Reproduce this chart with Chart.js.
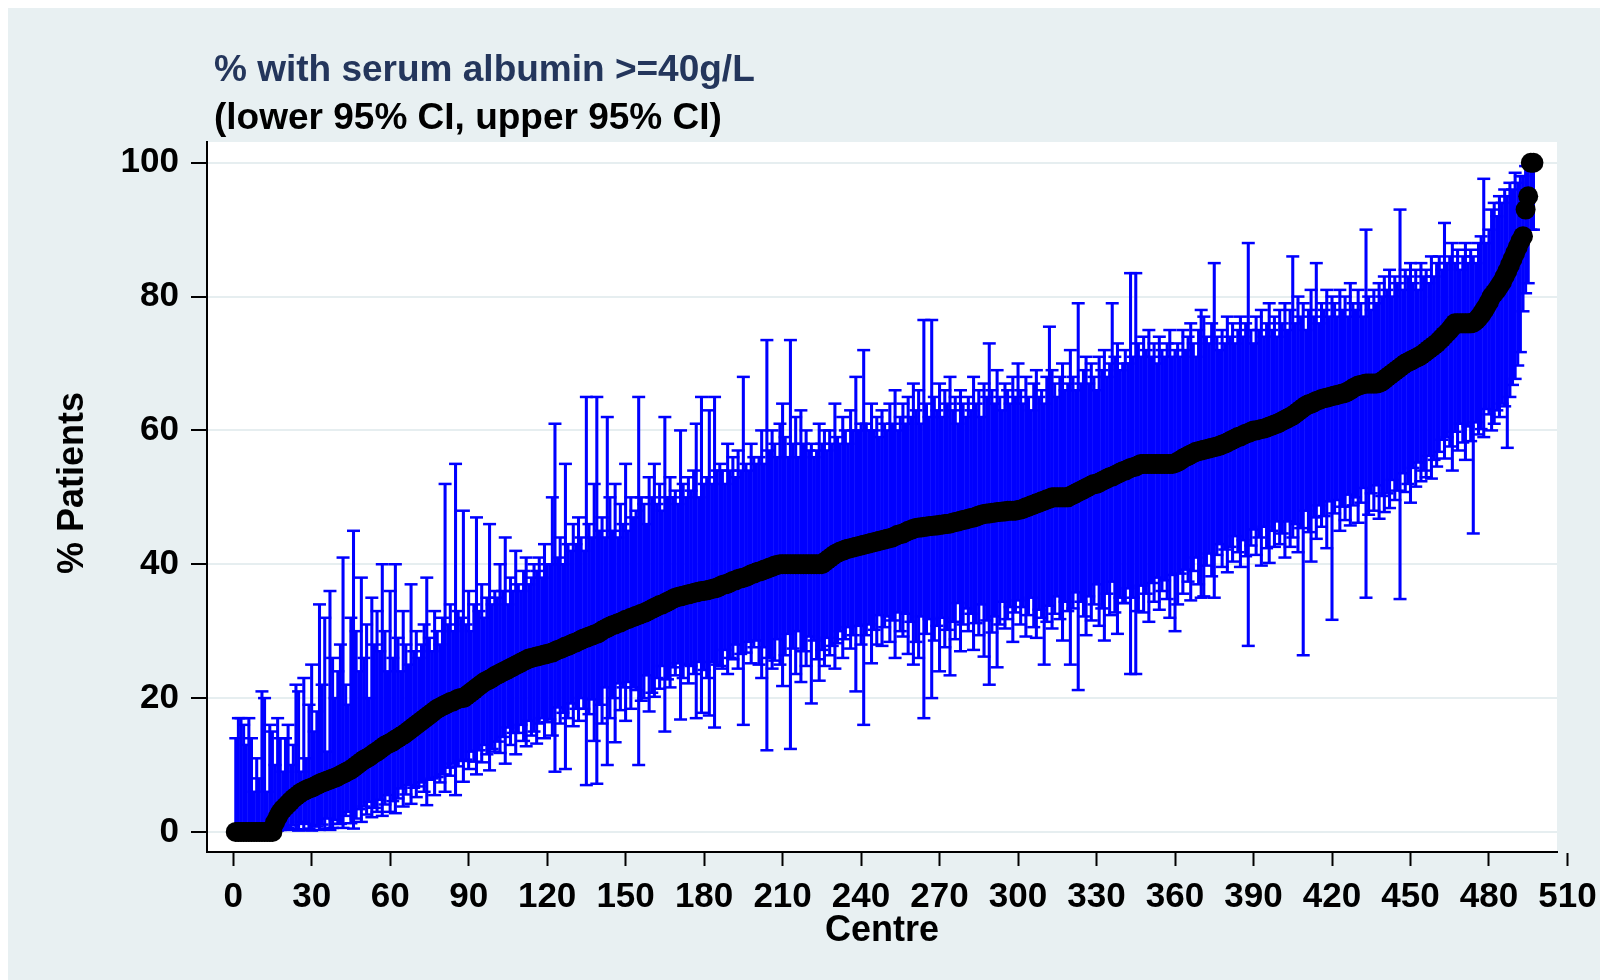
<!DOCTYPE html>
<html>
<head>
<meta charset="utf-8">
<script src="https://cdn.jsdelivr.net/npm/chart.js@4.4.1/dist/chart.umd.min.js"></script>
<style>
  html, body { margin: 0; padding: 0; background: #fff; }
  canvas { display: block; }
</style>
</head>
<body>
<canvas id="albuminChart" width="1600" height="980"></canvas>
<script>
// % of patients per centre, sorted
const centrePct = [
  0,0,0,0,0,0,0,0,0,0,0,0,0,0,0,1.4,2.2,2.9,3.4,3.8,
  4.2,4.6,5.0,5.3,5.6,5.9,6.1,6.3,6.5,6.6,6.8,7.0,7.2,7.4,7.5,7.7,7.8,8.0,8.1,8.3,
  8.5,8.7,8.9,9.1,9.3,9.6,9.9,10.2,10.5,10.8,11.0,11.2,11.5,11.8,12.0,12.3,12.6,12.9,13.1,13.3,
  13.5,13.8,14.0,14.3,14.5,14.8,15.1,15.4,15.7,16.0,16.3,16.6,16.9,17.2,17.5,17.8,18.1,18.4,18.6,18.8,
  19.0,19.2,19.4,19.5,19.7,19.9,20.0,20.0,20.3,20.6,20.9,21.2,21.5,21.8,22.1,22.4,22.6,22.8,23.0,23.3,
  23.5,23.7,23.9,24.1,24.3,24.5,24.7,24.9,25.1,25.3,25.5,25.7,25.9,26.0,26.1,26.2,26.3,26.4,26.5,26.6,
  26.7,26.8,27.0,27.2,27.3,27.5,27.7,27.8,28.0,28.2,28.3,28.5,28.7,28.9,29.0,29.2,29.3,29.5,29.6,29.8,
  30.1,30.3,30.5,30.7,30.9,31.0,31.2,31.3,31.5,31.7,31.8,32.0,32.1,32.3,32.4,32.6,32.7,32.9,33.1,33.3,
  33.5,33.7,33.9,34.0,34.2,34.4,34.6,34.8,35.0,35.1,35.2,35.3,35.4,35.5,35.6,35.7,35.8,35.9,36.0,36.0,
  36.1,36.2,36.3,36.4,36.5,36.7,36.9,37.0,37.1,37.3,37.5,37.6,37.8,37.9,38.0,38.1,38.3,38.5,38.6,38.8,
  38.9,39.0,39.2,39.3,39.5,39.6,39.8,39.9,40,40,40,40,40,40,40,40,40,40,40,40,
  40,40,40,40,40,40.3,40.6,40.9,41.2,41.5,41.7,41.9,42.0,42.2,42.3,42.4,42.5,42.6,42.7,42.8,
  42.9,43.0,43.1,43.2,43.3,43.4,43.5,43.6,43.7,43.8,43.9,44.0,44.2,44.4,44.5,44.6,44.8,45.0,45.1,45.3,
  45.4,45.5,45.5,45.6,45.6,45.7,45.7,45.8,45.8,45.9,45.9,46.0,46.0,46.1,46.2,46.3,46.4,46.5,46.6,46.7,
  46.8,46.9,47.0,47.1,47.3,47.4,47.5,47.6,47.6,47.7,47.7,47.8,47.8,47.9,47.9,48.0,48.0,48.0,48.0,48.1,
  48.2,48.3,48.5,48.6,48.8,48.9,49.1,49.2,49.4,49.5,49.7,49.8,50,50,50,50,50,50,50,50.2,
  50.4,50.6,50.8,51.0,51.2,51.4,51.6,51.8,52.0,52.0,52.2,52.4,52.6,52.8,53.0,53.1,53.3,53.5,53.7,53.9,
  54.0,54.2,54.4,54.5,54.6,54.8,55,55,55,55,55,55,55,55,55,55,55,55,55,55.1,
  55.3,55.5,55.8,56.0,56.2,56.4,56.6,56.8,56.9,57.0,57.1,57.2,57.3,57.4,57.5,57.6,57.7,57.9,58.0,58.2,
  58.4,58.6,58.8,59.0,59.1,59.3,59.5,59.6,59.8,60,60,60.1,60.2,60.3,60.4,60.6,60.7,60.9,61.0,61.2,
  61.4,61.6,61.8,62.0,62.2,62.5,62.8,63.1,63.4,63.7,63.9,64.0,64.2,64.4,64.5,64.7,64.8,64.9,65.0,65.1,
  65.2,65.3,65.4,65.5,65.6,65.8,66.0,66.3,66.5,66.7,66.8,66.9,67,67,67,67,67,67.1,67.3,67.6,
  67.9,68.2,68.5,68.8,69.1,69.4,69.7,70.0,70.2,70.4,70.6,70.8,71.0,71.2,71.5,71.8,72.1,72.4,72.7,73.0,
  73.4,73.8,74.2,74.6,75.0,75.5,76,76,76,76,76,76,76,76.1,76.4,76.8,77.3,77.9,78.5,79.2,
  80.0,80.5,81.0,81.6,82.2,83.0,83.8,84.7,85.6,86.5,87.4,88.3,89.0,93.0,95.0,100,100
];

const ciLower = [
  0,0,0,0,0,0,0,0,0,0,0,0,0,0,0,0.1,0.2,0.3,0.4,0.4,
  0.6,0.3,1.0,0.4,0.2,1.5,0.3,1.2,0.5,0.2,1.0,0.8,0.3,1.1,0.4,2.0,0.3,0.6,1.8,1.2,
  1.2,0.6,2.4,3.0,1.3,0.5,2.0,3.4,1.5,3.8,2.6,4.5,2.2,3.6,3.0,4.8,2.4,4.1,5.5,3.0,
  4.6,2.8,5.0,6.5,3.8,5.6,7.0,4.2,6.6,5.2,6.8,7.4,6.0,4.0,7.8,8.0,5.5,8.2,7.4,8.6,
  6.0,9.6,8.4,10.2,5.5,9.8,10.6,7.5,10.8,9.4,12.0,10.5,8.6,12.2,10.4,13.0,11.6,9.2,12.4,12.0,
  13.5,11.8,14.2,10.2,15.6,13.0,14.8,11.6,14.8,16.0,13.6,12.8,16.6,14.4,15.0,13.2,16.2,17.0,14.0,16.4,
  16.8,14.4,9.0,18.6,16.2,17.8,9.4,17.0,19.2,15.8,18.4,16.6,20.0,18.4,7.0,17.6,19.8,13.6,7.2,19.0,
  16.2,21.6,10.0,17.0,20.0,13.4,22.2,18.2,21.6,16.6,22.4,18.4,21.6,21.2,10.0,19.6,20.0,23.4,18.0,20.8,
  20.2,23.0,21.4,24.8,15.0,22.8,21.6,24.6,23.4,25.2,16.8,23.0,25.0,22.2,24.8,23.6,17.0,25.4,17.8,24.2,
  23.0,17.4,25.4,15.6,25.0,24.8,24.4,27.2,23.6,26.0,25.8,28.0,24.4,26.6,16.0,26.8,28.4,25.2,27.6,28.6,
  25.0,23.0,27.6,12.2,26.0,24.4,25.6,28.8,25.0,21.8,26.4,29.6,12.4,27.4,23.6,30.0,22.4,27.0,24.8,29.2,
  19.2,28.6,25.8,22.6,27.2,24.8,29.0,26.4,27.8,24.4,28.2,30.0,26.0,28.8,30.6,27.4,29.4,21.0,30.8,28.0,
  16.0,29.4,31.0,25.2,30.2,28.0,32.4,27.8,30.6,32.2,28.4,31.6,26.0,32.8,30.0,29.2,32.6,26.6,31.4,25.0,
  28.4,26.0,32.2,17.0,29.6,31.8,20.0,28.6,30.8,24.0,32.0,27.6,30.2,23.4,31.4,28.8,34.2,27.0,31.0,33.4,
  30.0,32.6,27.2,31.2,29.4,34.0,26.2,31.6,22.0,29.8,32.2,24.6,31.0,34.4,30.4,31.8,33.6,28.4,32.8,34.6,
  31.0,33.6,29.2,32.4,35.0,30.6,29.0,33.2,32.0,25.0,31.4,33.8,30.4,32.6,35.2,31.8,28.6,34.4,33.0,25.0,
  33.4,35.8,21.2,34.4,32.2,29.4,35.2,31.6,34.0,37.0,30.8,33.4,28.6,35.6,32.4,37.4,32.8,29.6,35.0,34.2,
  34.2,36.4,23.6,35.0,23.6,33.0,36.8,32.8,35.6,31.4,37.2,34.4,38.0,33.2,36.0,37.6,34.8,32.0,38.4,30.0,
  34.0,38.6,35.6,39.2,37.4,34.6,39.0,41.0,37.0,35.0,35.2,39.8,41.6,38.2,35.0,41.4,43.0,39.6,42.2,38.8,
  42.6,40.4,44.2,41.8,39.6,43.6,41.2,27.8,42.8,45.2,41.4,44.0,39.8,45.6,42.4,40.2,45.0,42.6,46.4,43.0,
  44.6,41.0,46.4,42.6,44.0,46.0,41.8,45.4,26.4,48.0,44.8,40.4,47.0,43.8,48.8,45.6,47.2,42.4,49.4,31.7,
  47.6,49.6,45.0,48.6,46.6,50.4,45.8,48.8,50.0,46.2,49.2,51.4,35.0,47.4,50.6,48.0,51.8,46.8,50.2,47.8,
  50.6,48.4,52.6,49.6,51.0,34.8,53.6,50.8,52.0,49.2,54.4,51.6,55.2,52.4,54.0,53.0,56.2,52.8,55.6,54.6,
  56.8,58.6,55.8,59.0,57.6,54.0,59.8,57.0,61.0,58.2,55.6,60.6,58.4,44.6,61.2,59.4,60.2,59.0,63.2,62.4,
  60.0,61.0,63.0,62.0,64.0,63.6,57.4,65.0,66.8,67.7,69.7,71.7,77.8,80.5,82.0,90.0,90.0
];

const ciUpper = [
  14,17,17,16,13,17,14,6,11,8,21,20,6,16,15,10,17,14,9,14,
  16,10,13,22,21,9,23,11,19,25,15,18,34,22,32,12,36,26,20,24,
  28,41,22,19,32,45,30,24,38,26,31,20,35,28,33,27,40,30,24,36,
  26,40,29,24,33,28,25,37,27,30,26,28,31,38,29,27,33,30,28,32,
  52,31,34,30,55,33,32,48,31,36,30,34,47,33,37,32,35,46,34,36,
  35,40,36,44,34,38,36,42,37,36,39,41,37,38,40,39,41,38,43,40,
  40,50,61,41,44,40,55,43,42,46,43,47,44,42,65,46,44,52,65,45,
  47,44,62,50,45,52,44,49,46,55,45,50,47,48,65,50,49,46,53,50,
  55,49,52,48,62,50,53,50,51,49,60,52,50,53,51,54,61,50,65,52,
  53,63,52,65,54,55,54,52,58,54,56,53,57,54,68,55,54,58,56,55,
  56,60,55,73.5,57,60,58,56,61,64,59,56,73.5,58,62,56,63,58,60,57,
  58,56,57,61,58,60,57,60,58,64,59,58,62,60,58,63,60,68,60,61,
  72,61,60,64,60,62,59,63,61,60,64,61,66,60,62,64,61,65,62,67,
  63,66,61,76.5,64,62,76.5,65,63,67,62,66,64,68,63,65,61,66,64,62,
  65,63,68,64,66,62,67,65,73,66,64,69,65,63,67,66,64,68,65,70,
  66,64,68,65,63,67,69,65,66,64,68,75.5,69,67,65,68,70,66,67,72,
  68,66,79,67,69,71,67,70,68,66,71,69,72,68,70,79,71,73,69,70,
  72,70,83.5,71,83.5,73,71,74,72,75,71,73,70,74,72,71,73,75,71,72,
  73,71,75,72,74,76,73,71,75,78,77,74,73,76,85,74,72,75,73,77,
  74,76,73,75,77,74,76,88,75,73,77,75,78,74,76,79,75,77,74,78,
  76,79,75,78,86,76,80,77,79,75,78,81,77,85,76,79,78,81,77,80,
  79,77,81,78,80,77,82,79,78,81,79,77,90,80,78,81,79,82,80,83,
  81,84,80,83,82,93,81,84,83,85,82,84,81,85,83,84,82,86,83,85,
  86,84,91,85,86,88,85,87,84,86,88,85,87,86,85,88,89,97.6,88,90,
  93,94,92,95,94,96,95,97,96,98.5,97,98,98,99.5,99.8,100,100
];

const xTickValues = [0, 30, 60, 90, 120, 150, 180, 210, 240, 270, 300, 330, 360, 390, 420, 450, 480, 510];
const yTickValues = [0, 20, 40, 60, 80, 100];

const titleText = '% with serum albumin >=40g/L';
const subtitleText = '(lower 95% CI, upper 95% CI)';
const yTitleText = '% Patients';

const FONT = "'Liberation Sans', Arial, Helvetica, sans-serif";
const BLUE = '#0000ff';
const BG = '#e8f0f2';

const centreIds = centrePct.map((_, i) => i + 1);

// background bands, heading lines and the y title
const framePlugin = {
  id: 'frame',
  beforeDraw(chart) {
    const { ctx, width, height, chartArea: a } = chart;
    ctx.save();
    ctx.fillStyle = '#ffffff';
    ctx.fillRect(0, 0, width, height);
    ctx.fillStyle = BG;
    ctx.fillRect(8, 8, width - 8, height - 8);
    ctx.fillStyle = '#ffffff';
    ctx.fillRect(a.left, a.top, a.right - a.left, a.bottom - a.top);
    ctx.restore();
  },
  afterDraw(chart) {
    const { ctx } = chart;
    ctx.save();
    ctx.textAlign = 'left';
    ctx.textBaseline = 'alphabetic';
    ctx.font = `bold 37px ${FONT}`;
    ctx.fillStyle = '#24365c';
    ctx.fillText(titleText, 214, 81);
    ctx.fillStyle = '#000000';
    ctx.fillText(subtitleText, 214, 129);

    ctx.translate(73, 483);
    ctx.rotate(-Math.PI / 2);
    ctx.textAlign = 'center';
    ctx.textBaseline = 'middle';
    ctx.font = `bold 36px ${FONT}`;
    ctx.fillText(yTitleText, 0, 0);
    ctx.restore();
  }
};

const tickFont = { family: FONT, size: 35, weight: 'bold' };
const axisTitleFont = { family: FONT, size: 36, weight: 'bold' };

new Chart(document.getElementById('albuminChart').getContext('2d'), {
  type: 'bar',
  data: {
    datasets: [
      {
        type: 'scatter',
        label: 'pct',
        data: centreIds.map((x, i) => ({ x, y: centrePct[i] })),
        pointRadius: 10,
        pointBackgroundColor: '#000000',
        pointBorderColor: '#000000',
        pointBorderWidth: 0,
        order: 0
      },
      {
        type: 'scatter',
        label: 'upper cap',
        data: centreIds.map((x, i) => ({ x, y: ciUpper[i] })),
        pointStyle: 'line',
        pointRadius: 6.5,
        pointBorderColor: BLUE,
        pointBorderWidth: 2.5,
        order: 1
      },
      {
        type: 'scatter',
        label: 'lower cap',
        data: centreIds.map((x, i) => ({ x, y: ciLower[i] })),
        pointStyle: 'line',
        pointRadius: 6.5,
        pointBorderColor: BLUE,
        pointBorderWidth: 2.5,
        order: 1
      },
      {
        type: 'bar',
        label: '95% CI',
        data: centreIds.map((x, i) => ({ x, y: [ciLower[i], ciUpper[i]] })),
        backgroundColor: BLUE,
        borderWidth: 0,
        barThickness: 2.4,
        grouped: false,
        order: 2
      }
    ]
  },
  options: {
    responsive: false,
    devicePixelRatio: 1,
    animation: false,
    events: [],
    layout: { padding: { left: 0, top: 142, right: 43, bottom: 0 } },
    plugins: {
      legend: { display: false },
      tooltip: { enabled: false },
      title: { display: false }
    },
    scales: {
      x: {
        type: 'linear',
        min: -10,
        max: 506,
        offset: false,
        afterBuildTicks: (s) => { s.ticks = xTickValues.map((v) => ({ value: v })); },
        afterFit: (s) => { s.height = 128; s.paddingLeft = 0; s.paddingRight = 0; },
        grid: { offset: false, drawOnChartArea: false, drawTicks: true, tickLength: 14, tickColor: '#000', tickWidth: 2 },
        border: { display: true, color: '#000', width: 2 },
        ticks: { autoSkip: false, maxRotation: 0, minRotation: 0, padding: 10, color: '#000', font: tickFont },
        title: { display: true, text: 'Centre', color: '#000', font: axisTitleFont, padding: { top: 0, bottom: 27 } }
      },
      y: {
        min: -3,
        max: 103.1,
        afterBuildTicks: (s) => { s.ticks = yTickValues.map((v) => ({ value: v })); },
        afterFit: (s) => { s.width = 207; s.paddingTop = 0; s.paddingBottom = 0; },
        grid: { color: '#e6eef0', lineWidth: 2, drawTicks: true, tickLength: 16, tickColor: '#000', tickWidth: 2 },
        border: { display: true, color: '#000', width: 2 },
        ticks: { padding: 12, color: '#000', font: tickFont },
        title: { display: false }
      }
    }
  },
  plugins: [framePlugin]
});
</script>
</body>
</html>
